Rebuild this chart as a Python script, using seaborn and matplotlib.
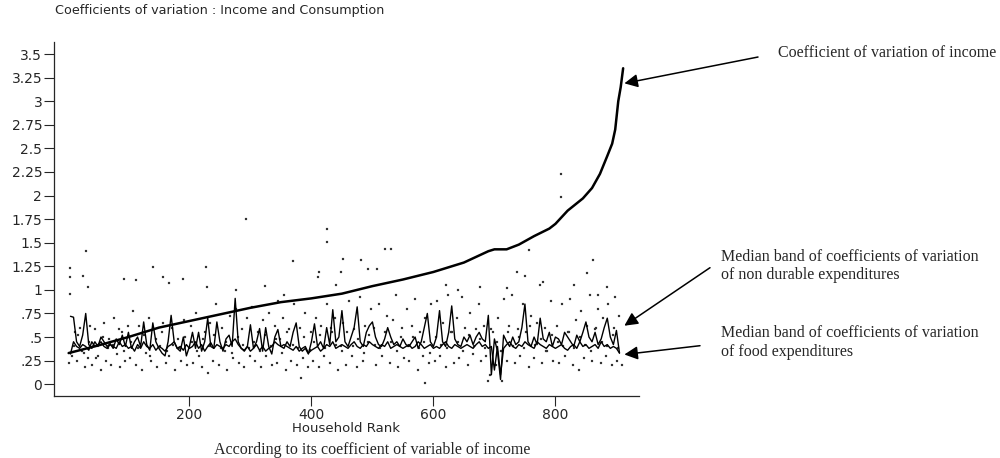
import numpy as np
import pandas as pd
import seaborn as sns
import matplotlib.pyplot as plt

sns.set_style("ticks")
plt.rcParams['font.family'] = ['DejaVu Sans']

# coefficient of variation of income, households ranked by it
inc_rank = [2, 50, 100, 150, 200, 250, 300, 350, 400, 450, 500, 550, 600, 650, 690,
            700, 720, 740, 765, 790, 800, 820, 845, 860, 873, 885, 893, 898, 903, 907, 911]
inc_cv = [0.33, 0.41, 0.50, 0.60, 0.67, 0.74, 0.81, 0.87, 0.91, 0.96, 1.04, 1.11, 1.19, 1.29, 1.41,
          1.43, 1.43, 1.48, 1.57, 1.65, 1.70, 1.84, 1.97, 2.08, 2.23, 2.42, 2.55, 2.70, 3.00, 3.15, 3.35]

# median bands, one value every 5 households (rank 5 .. 905), in hundredths
band_rank = list(range(5, 910, 5))
nondur = [72, 71, 45, 40, 52, 75, 42, 38, 45, 40,
          50, 45, 40, 43, 38, 48, 42, 52, 40, 55,
          38, 45, 50, 40, 66, 42, 36, 65, 45, 38,
          33, 30, 45, 73, 45, 38, 35, 50, 30, 40,
          55, 38, 55, 35, 45, 70, 40, 38, 66, 45,
          35, 48, 52, 40, 91, 45, 38, 35, 40, 63,
          38, 45, 59, 35, 60, 40, 32, 50, 58, 40,
          38, 45, 40, 55, 65, 40, 35, 38, 32, 45,
          64, 40, 45, 38, 60, 42, 79, 45, 50, 78,
          45, 40, 50, 60, 82, 45, 40, 55, 62, 66,
          50, 42, 40, 48, 60, 50, 42, 45, 40, 48,
          42, 40, 45, 50, 38, 45, 60, 75, 45, 40,
          50, 78, 45, 40, 55, 83, 48, 42, 40, 50,
          45, 52, 42, 50, 55, 48, 45, 73, 10, 48,
          35, 5, 52, 45, 40, 50, 42, 45, 60, 85,
          45, 40, 50, 42, 70, 48, 45, 55, 40, 50,
          48, 42, 55, 50, 45, 40, 52, 45, 55, 66,
          50, 45, 55, 42, 48, 60, 70, 50, 42, 57,
          33]
food = [32, 45, 40, 38, 42, 40, 36, 45, 40, 42,
        45, 40, 38, 42, 40, 38, 45, 40, 42, 38,
        40, 35, 42, 38, 45, 40, 38, 42, 36, 40,
        38, 35, 40, 42, 45, 38, 40, 36, 42, 38,
        40, 45, 38, 42, 35, 40, 44, 38, 42, 40,
        38, 42, 40, 45, 48, 42, 38, 36, 40, 35,
        38, 42, 36, 40, 35, 38, 40, 45, 42, 40,
        42, 40, 38, 36, 40, 35, 38, 40, 33, 36,
        38, 40, 35, 38, 42, 40, 45, 38, 40, 42,
        40, 38, 42, 45, 40, 38, 42, 40, 45, 42,
        40, 38, 42, 40, 45, 38, 40, 42, 40, 38,
        40, 42, 38, 40, 45, 42, 38, 40, 42, 38,
        40, 38, 42, 45, 40, 38, 42, 40, 38, 40,
        42, 40, 38, 42, 45, 40, 42, 38, 40, 15,
        40, 10, 38, 42, 45, 40, 38, 42, 40, 45,
        42, 40, 38, 45, 42, 40, 38, 42, 40, 38,
        40, 42, 38, 36, 40, 42, 38, 45, 40, 42,
        38, 40, 42, 38, 45, 40, 42, 38, 40, 38,
        33]

# individual household coefficients (scattered dots)
dot_rank = [3, 8, 12, 15, 20, 24, 28, 33, 37, 41, 45, 50, 55, 60, 64, 68, 72, 77, 82, 86, 90, 95, 99,
            5, 5, 25, 31, 33, 5, 93,
            103, 107, 112, 118, 122, 128, 133, 137, 142, 147, 152, 156, 161, 166, 171, 176, 181, 186, 191, 196,
            113, 140, 157, 166, 190,
            202, 206, 211, 216, 220, 225, 230, 234, 239, 243, 248, 253, 258, 262, 267, 271, 276, 281, 286, 290, 295, 299,
            227, 228, 276, 293,
            303, 308, 312, 317, 321, 326, 331, 335, 340, 344, 349, 353, 358, 363, 367, 372, 376, 381, 386, 390, 395, 399,
            324, 370, 383, 345, 355,
            403, 407, 412, 416, 421, 425, 430, 434, 439, 443, 448, 452, 457, 461, 466, 470, 475, 479, 484, 488, 493, 497,
            411, 412, 425, 425, 440, 448, 452, 482, 493,
            502, 506, 511, 515, 520, 524, 529, 533, 538, 542, 547, 551, 556, 560, 565, 569, 574, 578, 583, 587, 592, 596,
            507, 520, 531, 586,
            602, 606, 611, 615, 620, 624, 629, 633, 638, 642, 647, 651, 656, 660, 665, 669, 674, 678, 683, 687, 692, 697,
            676, 690, 640, 620,
            702, 706, 711, 715, 720, 724, 729, 733, 738, 742, 747, 751, 756, 760, 765, 769, 774, 778, 783, 787, 792, 796,
            712, 737, 750, 757, 720, 780,
            802, 806, 811, 815, 820, 824, 829, 833, 838, 842, 847, 851, 856, 860, 865, 869, 874, 878, 883, 887, 892, 896, 901, 905, 909,
            809, 809, 862, 851, 885, 830, 870, 897]
dot_cv = [.22, .30, .55, .25, .60, .35, .18, .28, .62, .20, .58, .30, .15, .65, .25, .48, .20, .70, .32, .18, .55, .25, .62,
          1.23, 1.14, 1.15, 1.41, 1.03, .96, 1.12,
          .28, .78, .20, .62, .15, .33, .70, .25, .58, .18, .40, .65, .22, .30, .60, .15, .48, .25, .68, .20,
          1.10, 1.24, 1.14, 1.07, 1.12,
          .62, .22, .75, .30, .18, .55, .12, .65, .25, .85, .20, .60, .35, .15, .72, .28, .80, .22, .58, .18, .70, .30,
          1.24, 1.03, 1.00, 1.75,
          .82, .25, .55, .18, .68, .30, .75, .20, .62, .22, .48, .70, .15, .58, .25, .85, .20, .60, .28, .75, .18, .55,
          1.04, 1.31, .07, .88, .95,
          .25, .70, .18, .62, .30, .85, .22, .55, .70, .15, .40, .65, .20, .88, .30, .58, .18, .92, .25, .62, .45, .80,
          1.14, 1.19, 1.65, 1.51, 1.05, 1.19, 1.33, 1.32, 1.22,
          .60, .20, .85, .30, .55, .72, .22, .68, .95, .18, .50, .28, .80, .25, .62, .90, .15, .55, .30, .70, .22, .85,
          1.22, 1.43, 1.43, .01,
          .25, .88, .30, .65, .18, .95, .55, .22, .70, .28, .92, .60, .20, .75, .32, .58, .85, .25, .62, .30, .10, .55,
          1.03, .03, 1.00, 1.05,
          .20, .70, .35, .90, .25, .62, .95, .22, .58, .30, .85, .55, .18, .72, .28, .65, 1.05, .22, .60, .35, .88, .25,
          .03, 1.19, 1.15, 1.42, 1.02, 1.08,
          .62, .22, .85, .30, .55, .90, .20, .68, .15, .78, .28, .62, .95, .25, .58, .80, .22, .70, .30, .85, .20, .60, .25, .72, .20,
          2.23, 1.99, 1.32, 1.18, 1.03, 1.05, .95, .92]

# more dots packed around the bands
dot2_rank = [10, 18, 27, 35, 47, 58, 66, 75, 84, 92,
             105, 115, 125, 135, 145, 155, 163, 173, 183, 193,
             205, 213, 222, 232, 241, 251, 260, 269, 279, 288, 297,
             306, 315, 324, 333, 342, 351, 360, 369, 378, 388, 397,
             405, 414, 423, 432, 441, 450, 459, 468, 477, 486, 495,
             504, 513, 522, 531, 540, 549, 558, 567, 576, 585, 594,
             604, 613, 622, 631, 640, 649, 658, 667, 676, 685, 694,
             704, 713, 722, 731, 740, 749, 758, 767, 776, 785, 794,
             804, 813, 822, 831, 840, 849, 858, 867, 876, 885, 894, 903]
dot2_cv = [.40, .52, .33, .45, .28, .50, .38, .42, .58, .35,
           .45, .38, .52, .30, .48, .55, .35, .42, .38, .50,
           .45, .35, .48, .40, .52, .38, .45, .33, .50, .42, .38,
           .45, .35, .52, .40, .48, .33, .55, .42, .38, .50, .36,
           .45, .52, .38, .60, .42, .35, .55, .40, .48, .33, .52,
           .42, .38, .55, .45, .35, .60, .40, .50, .38, .45, .33,
           .50, .42, .38, .55, .45, .35, .52, .40, .48, .38, .58,
           .45, .35, .55, .40, .50, .38, .62, .42, .48, .35, .52,
           .45, .40, .55, .38, .50, .42, .35, .60, .45, .40, .52, .38]

yticks = [0, .25, .5, .75, 1, 1.25, 1.5, 1.75, 2, 2.25, 2.5, 2.75, 3, 3.25, 3.5]
ytick_labels = ["0", ".25", ".5", ".75", "1", "1.25", "1.5", "1.75", "2", "2.25", "2.5", "2.75", "3", "3.25", "3.5"]
xticks = [200, 400, 600, 800]

bands = pd.DataFrame({"rank": band_rank,
                      "nondur": np.array(nondur) / 100,
                      "food": np.array(food) / 100})

fig = plt.figure(figsize=(10, 4.58), dpi=100)
ax = fig.add_axes([0.054, 0.135, 0.585, 0.773])

sns.scatterplot(x=dot_rank + dot2_rank, y=dot_cv + dot2_cv, s=3, color="#333333",
                edgecolor=None, marker="s", ax=ax)
sns.lineplot(data=bands, x="rank", y="food", color="black", lw=1.0, ax=ax)
sns.lineplot(data=bands, x="rank", y="nondur", color="black", lw=1.0, ax=ax)
sns.lineplot(x=inc_rank, y=inc_cv, color="black", lw=1.8, ax=ax)

ax.set_xlim(-22, 937)
ax.set_ylim(-0.127, 3.627)
ax.set_yticks(yticks)
ax.set_yticklabels(ytick_labels)
ax.set_xticks(xticks)
ax.tick_params(direction="out", length=7, width=0.8, labelsize=10, pad=1.5)
sns.despine(ax=ax)
for s in ["left", "bottom"]:
    ax.spines[s].set_linewidth(0.9)
ax.set_xlabel("Household Rank", fontsize=9.5, labelpad=0)
ax.set_ylabel("")

fig.text(0.055, 0.977, "Coefficients of variation : Income and Consumption", fontsize=9.2, va="center")
fig.text(0.372, 0.018, "According to its coefficient of variable of income",
         family="Liberation Serif", fontsize=11.5, ha="center", va="center")

serif = dict(family="Liberation Serif", fontsize=11.5, va="center")
fig.text(0.778, 0.8836, "Coefficient of variation of income", **serif)
fig.text(0.721, 1 - 257 / 458, "Median band of coefficients of variation", **serif)
fig.text(0.721, 1 - 275 / 458, "of non durable expenditures", **serif)
fig.text(0.721, 1 - 333 / 458, "Median band of coefficients of variation", **serif)
fig.text(0.721, 1 - 352 / 458, "of food expenditures", **serif)

arrow = dict(arrowstyle="-|>", mutation_scale=20, lw=1.1, color="black", shrinkA=0, shrinkB=0)
ax.annotate("", xy=(913, 3.19), xycoords="data", xytext=(0.758, 0.8755),
            textcoords="figure fraction", arrowprops=arrow, annotation_clip=False)
ax.annotate("", xy=(913, 0.62), xycoords="data", xytext=(0.710, 0.4155),
            textcoords="figure fraction", arrowprops=arrow, annotation_clip=False)
ax.annotate("", xy=(913, 0.315), xycoords="data", xytext=(0.700, 0.2452),
            textcoords="figure fraction", arrowprops=arrow, annotation_clip=False)

fig.savefig("out.png", dpi=100)
